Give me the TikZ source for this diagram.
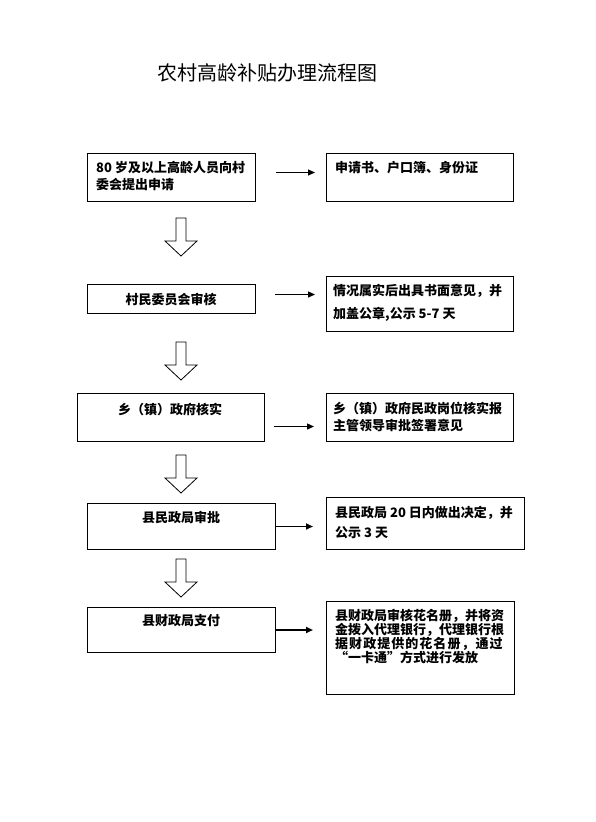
\documentclass[tikz,border=0pt]{standalone}
\usepackage{fontspec}
\setmainfont{Noto Sans CJK SC}
\usetikzlibrary{arrows.meta}

\tikzset{
  box/.style={draw,line width=1pt,anchor=north west,inner sep=0pt},
  txt/.style={inner sep=0pt,align=left,font=\bfseries\fontsize{13}{17}\selectfont},
  link/.style={line width=1pt,-{Triangle[length=7pt,width=6pt]}},
  downarrow/.pic={\draw[line width=.8pt] (-5,0) -- (-5,23) -- (-16,23) -- (0,38) -- (16,23) -- (5,23) -- (5,0) -- cycle;}
}

\begin{document}
\begin{tikzpicture}[x=1pt,y=-1pt]
  \useasboundingbox (0,0) rectangle (595,822);
  \node[font=\fontsize{20}{24}\selectfont] (title) at (267,73) {农村高龄补贴办理流程图};

  % left column
  \node[box,minimum width=168pt,minimum height=48pt] (l1) at (87,153) {};
  \node[box,minimum width=168pt,minimum height=29pt] (l2) at (87,284) {};
  \node[box,minimum width=187pt,minimum height=48pt] (l3) at (77,393) {};
  \node[box,minimum width=188pt,minimum height=46pt] (l4) at (87,503) {};
  \node[box,minimum width=188pt,minimum height=45pt] (l5) at (87,607) {};

  % right column
  \node[box,minimum width=187pt,minimum height=48pt] (r1) at (326,153) {};
  \node[box,minimum width=187pt,minimum height=55pt] (r2) at (326,276) {};
  \node[box,minimum width=187pt,minimum height=48pt] (r3) at (326,393) {};
  \node[box,minimum width=198pt,minimum height=52pt] (r4) at (326,497) {};
  \node[box,minimum width=188pt,minimum height=93pt] (r5) at (326,601) {};

  \node[txt,anchor=north west] (t1) at (96,161.5) {80 岁及以上高龄人员向村\\委会提出申请};
  \node[txt,anchor=north] (t2) at (171,292.5) {村民委员会审核};
  \node[txt,anchor=north] (t3) at (170,402.5) {乡（镇）政府核实};
  \node[txt,anchor=north] (t4) at (181,510.5) {县民政局审批};
  \node[txt,anchor=north] (t5) at (181,614.5) {县财政局支付};

  \node[txt,anchor=north west] (s1) at (335,161.5) {申请书、户口簿、身份证};
  \node[txt,anchor=north west,font=\bfseries\fontsize{13}{23}\selectfont] (s2) at (333,283.5) {情况属实后出具书面意见，并\\加盖公章,公示 5-7 天};
  \node[txt,anchor=north west] (s3) at (333,401.5) {乡（镇）政府民政岗位核实报\\主管领导审批签署意见};
  \node[txt,anchor=north west,font=\bfseries\fontsize{13}{20}\selectfont] (s4) at (335,506.5) {县民政局 20 日内做出决定，并\\公示 3 天};
  \node[txt,anchor=north west,font=\bfseries\fontsize{13}{14}\selectfont] (s5) at (335,608.5)
    {县财政局审核花名册，并将资\\金拨入代理银行，代理银行根\\{\addfontfeature{LetterSpace=8}据财政提供的花名册，通过}\\“一卡通”方式进行发放};

  % side arrows
  \draw[link,shorten <=20pt,shorten >=11pt] ([yshift=5pt]l1.east) -- ([yshift=5pt]l1.east -| r1.west);
  \draw[link,line width=1.3pt,shorten <=19pt,shorten >=11pt] ([yshift=4.5pt]l2.east) -- ([yshift=4.5pt]l2.east -| r2.west);
  \draw[link,line width=1.3pt,shorten <=9pt,shorten >=12pt] ([yshift=-9pt]l3.east) -- ([yshift=-9pt]l3.east -| r3.west);
  \draw[link,line width=1.8pt,shorten >=13pt] (l4.east) -- (l4.east -| r4.west);
  \draw[link,line width=1.8pt,shorten >=13pt] (l5.east) -- (l5.east -| r5.west);

  % down arrows
  \foreach \y in {218,342,455,559}
    \pic at (181,\y) {downarrow};
\end{tikzpicture}
\end{document}
